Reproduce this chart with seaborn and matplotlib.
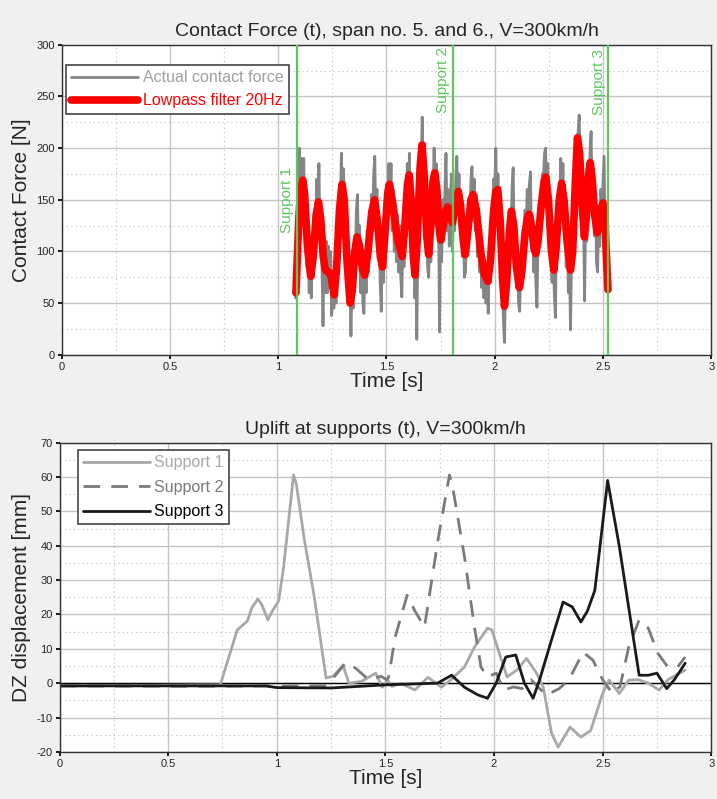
import numpy as np
import pandas as pd
import seaborn as sns
import matplotlib.pyplot as plt
from matplotlib.ticker import MultipleLocator

# contact force, span 5 and 6
force_t = [1.080, 1.086, 1.092, 1.098, 1.103, 1.108, 1.113, 1.118, 1.123, 1.128, 1.133, 1.138,
           1.143, 1.148, 1.153, 1.158, 1.163, 1.168, 1.173, 1.178, 1.183, 1.188, 1.193, 1.198,
           1.203, 1.207, 1.212, 1.217, 1.222, 1.227, 1.232, 1.237, 1.242, 1.247, 1.252, 1.257,
           1.262, 1.267, 1.272, 1.277, 1.282, 1.287, 1.292, 1.297, 1.302, 1.307, 1.312, 1.317,
           1.322, 1.327, 1.332, 1.336, 1.341, 1.346, 1.351, 1.356, 1.361, 1.366, 1.371, 1.376,
           1.381, 1.386, 1.391, 1.396, 1.401, 1.406, 1.411, 1.416, 1.421, 1.426, 1.431, 1.436,
           1.441, 1.446, 1.451, 1.456, 1.461, 1.466, 1.471, 1.476, 1.481, 1.486, 1.491, 1.496,
           1.501, 1.506, 1.511, 1.516, 1.521, 1.526, 1.531, 1.536, 1.541, 1.546, 1.551, 1.556,
           1.561, 1.566, 1.571, 1.576, 1.581, 1.586, 1.591, 1.596, 1.601, 1.606, 1.611, 1.616,
           1.621, 1.626, 1.631, 1.636, 1.640, 1.645, 1.650, 1.655, 1.660, 1.665, 1.670, 1.675,
           1.680, 1.685, 1.690, 1.695, 1.700, 1.705, 1.710, 1.715, 1.720, 1.725, 1.730, 1.735,
           1.740, 1.745, 1.750, 1.755, 1.760, 1.765, 1.770, 1.775, 1.780, 1.785, 1.790, 1.795,
           1.800, 1.805, 1.810, 1.815, 1.820, 1.825, 1.830, 1.835, 1.840, 1.845, 1.850, 1.855,
           1.860, 1.865, 1.870, 1.875, 1.880, 1.885, 1.890, 1.895, 1.900, 1.905, 1.910, 1.915,
           1.920, 1.925, 1.930, 1.935, 1.940, 1.945, 1.950, 1.955, 1.960, 1.965, 1.970, 1.975,
           1.980, 1.985, 1.990, 1.995, 2.000, 2.005, 2.010, 2.015, 2.020, 2.025, 2.030, 2.035,
           2.040, 2.045, 2.050, 2.055, 2.060, 2.065, 2.070, 2.075, 2.080, 2.085, 2.090, 2.095,
           2.100, 2.105, 2.110, 2.115, 2.120, 2.125, 2.130, 2.135, 2.140, 2.145, 2.150, 2.155,
           2.160, 2.165, 2.170, 2.175, 2.180, 2.185, 2.190, 2.195, 2.200, 2.205, 2.210, 2.215,
           2.220, 2.225, 2.230, 2.235, 2.240, 2.245, 2.250, 2.255, 2.260, 2.265, 2.270, 2.275,
           2.280, 2.285, 2.290, 2.295, 2.300, 2.305, 2.310, 2.315, 2.320, 2.325, 2.330, 2.335,
           2.340, 2.345, 2.350, 2.355, 2.360, 2.365, 2.370, 2.375, 2.380, 2.385, 2.390, 2.395,
           2.400, 2.405, 2.410, 2.415, 2.420, 2.425, 2.430, 2.435, 2.440, 2.445, 2.450, 2.455,
           2.460, 2.465, 2.470, 2.475, 2.480, 2.485, 2.490, 2.495, 2.500, 2.505, 2.510, 2.515,
           2.520, 2.523]
force_actual = [55, 130, 175, 200, 145, 190, 135, 190, 120, 150, 85, 120,
                60, 95, 55, 105, 75, 130, 100, 170, 125, 185, 115, 140,
                80, 28, 105, 60, 110, 60, 105, 65, 100, 38, 80, 45,
                80, 50, 120, 110, 160, 145, 195, 140, 180, 115, 130, 85,
                95, 55, 60, 18, 75, 45, 105, 85, 140, 155, 95, 125,
                60, 100, 50, 40, 100, 60, 120, 80, 135, 105, 155, 120,
                175, 192, 125, 160, 100, 130, 70, 42, 105, 70, 130, 100,
                165, 130, 185, 150, 185, 120, 160, 100, 140, 90, 135, 80,
                125, 75, 56, 115, 85, 140, 115, 185, 145, 195, 130, 160,
                85, 110, 55, 85, 15, 110, 135, 195, 180, 230, 170, 205,
                135, 140, 85, 75, 120, 90, 155, 150, 200, 150, 185, 125,
                150, 22, 130, 90, 150, 110, 160, 195, 120, 160, 105, 145,
                175, 100, 150, 120, 170, 192, 140, 175, 125, 140, 95, 125,
                75, 80, 115, 100, 145, 120, 170, 182, 130, 170, 120, 155,
                95, 125, 80, 110, 65, 95, 55, 90, 50, 80, 40, 95,
                70, 125, 120, 170, 160, 200, 135, 175, 110, 140, 60, 70,
                35, 12, 70, 60, 105, 95, 140, 115, 160, 181, 110, 120,
                65, 100, 50, 42, 80, 75, 115, 100, 140, 120, 160, 140,
                165, 177, 105, 135, 80, 120, 70, 46, 115, 115, 135, 150,
                175, 170, 195, 200, 150, 185, 125, 135, 90, 70, 105, 60,
                36, 110, 115, 155, 150, 190, 140, 185, 120, 150, 85, 120,
                60, 95, 24, 100, 95, 150, 150, 200, 210, 215, 232, 180,
                185, 125, 135, 52, 140, 110, 170, 165, 195, 216, 150, 180,
                115, 150, 90, 80, 135, 105, 160, 140, 165, 192, 110, 125,
                65, 65]

lowpass_t = [1.082, 1.095, 1.105, 1.114, 1.122, 1.135, 1.150, 1.162, 1.175, 1.186, 1.197, 1.208,
             1.218, 1.230, 1.241, 1.250, 1.259, 1.270, 1.283, 1.295, 1.305, 1.318, 1.332, 1.342,
             1.354, 1.364, 1.376, 1.390, 1.400, 1.415, 1.432, 1.445, 1.458, 1.472, 1.482, 1.494,
             1.506, 1.514, 1.530, 1.550, 1.573, 1.585, 1.597, 1.605, 1.614, 1.624, 1.632, 1.642,
             1.655, 1.664, 1.674, 1.686, 1.695, 1.705, 1.715, 1.723, 1.733, 1.742, 1.750, 1.762,
             1.775, 1.782, 1.792, 1.805, 1.818, 1.832, 1.842, 1.855, 1.864, 1.875, 1.890, 1.900,
             1.915, 1.935, 1.952, 1.968, 1.980, 1.995, 2.005, 2.014, 2.025, 2.036, 2.045, 2.055,
             2.068, 2.077, 2.088, 2.100, 2.114, 2.125, 2.140, 2.152, 2.159, 2.170, 2.182, 2.190,
             2.200, 2.215, 2.228, 2.236, 2.248, 2.262, 2.273, 2.284, 2.298, 2.309, 2.320, 2.335,
             2.350, 2.360, 2.372, 2.382, 2.392, 2.404, 2.414, 2.424, 2.434, 2.441, 2.450, 2.462,
             2.473, 2.482, 2.492, 2.500, 2.508, 2.515, 2.523]
lowpass_f = [60, 130, 162, 169, 155, 105, 76, 95, 135, 148, 130, 95,
             82, 80, 79, 68, 58, 85, 140, 165, 150, 90, 50, 62,
             100, 114, 105, 82, 77, 100, 138, 150, 130, 95, 85, 120,
             157, 165, 145, 112, 95, 125, 165, 174, 150, 95, 77, 110,
             180, 203, 175, 115, 97, 125, 168, 176, 160, 125, 111, 125,
             140, 143, 134, 128, 145, 158, 145, 110, 97, 118, 150, 155,
             140, 100, 78, 71, 90, 140, 158, 160, 130, 75, 47, 70,
             120, 139, 125, 85, 65, 80, 118, 134, 136, 125, 102, 98,
             110, 145, 168, 172, 150, 100, 82, 105, 150, 166, 150, 108,
             82, 100, 165, 210, 195, 145, 114, 135, 175, 186, 170, 135,
             118, 125, 142, 147, 135, 100, 63]

support_t = [1.085, 1.805, 2.525]
support_names = ["Support 1", "Support 2", "Support 3"]
support_text_y = [150, 298, 296]

# uplift at supports
s1_t = [0, 0.74, 0.818, 0.864, 0.886, 0.913, 0.932, 0.959, 0.977, 1.009, 1.032, 1.077, 1.09,
        1.127, 1.173, 1.227, 1.259, 1.305, 1.332, 1.39, 1.455, 1.486, 1.51, 1.53, 1.57, 1.636,
        1.696, 1.758, 1.80, 1.864, 1.91, 1.97, 1.99, 2.03, 2.06, 2.105, 2.15, 2.196, 2.227,
        2.265, 2.295, 2.35, 2.40, 2.445, 2.50, 2.53, 2.577, 2.62, 2.665, 2.71, 2.76, 2.80, 2.88]
s1_z = [-0.8, -0.5, 15.5, 18, 22, 24.5, 22.7, 18.4, 20.7, 24, 34, 60.6, 58,
        41.7, 25, 1.5, 2, 5.2, 0, 0.5, 2.9, -1.2, 1, -1, 0, -2,
        1.7, -1.2, 0.9, 4.7, 10.5, 16, 15.5, 7.6, 1.8, 3.8, 7.2, 2.9, -1.2,
        -14.6, -18.6, -12.8, -15.7, -13.8, -3, 0.9, -3, 0.9, 1, 0, -2, 1, 3.8]

s2_t = [0, 0.6, 1.22, 1.26, 1.318, 1.364, 1.423, 1.48, 1.505, 1.515, 1.545, 1.60, 1.636, 1.68,
        1.742, 1.795, 1.81, 1.864, 1.91, 1.94, 1.97, 2.01, 2.045, 2.09, 2.13, 2.17, 2.24, 2.30,
        2.345, 2.41, 2.455, 2.50, 2.545, 2.58, 2.62, 2.668, 2.71, 2.755, 2.80, 2.845, 2.88]
s2_z = [-0.8, -0.9, -0.8, 1.5, 6, 4.3, 1, 2, 1, 1.8, 13.4, 25.6, 21, 16.3,
        41.7, 60.6, 57, 36.8, 16.3, 4.7, 1.8, 2.9, -2, -1.1, -1.6, 1, -3.5, -1.6,
        1, 9, 6.7, 1, -3, -1, 10.5, 18.4, 16, 8.6, 4.7, 4.7, 7.6]

s3_t = [0, 0.95, 1.0, 1.25, 1.5, 1.74, 1.805, 1.864, 1.925, 1.97, 2.01, 2.054, 2.10, 2.14,
        2.18, 2.21, 2.26, 2.318, 2.36, 2.40, 2.43, 2.464, 2.486, 2.523, 2.577, 2.62, 2.668,
        2.71, 2.75, 2.795, 2.83, 2.88]
s3_z = [-0.8, -0.8, -1.3, -1.4, -0.5, 0, 2.3, -1.2, -3.4, -4.4, 0, 7.6, 8.2, 0,
        -4.4, 1, 11.6, 23.6, 22.2, 17.8, 21, 27, 38.8, 59, 39.7, 22, 2.3,
        2.3, 2.9, -1.6, 1, 5.8]

force_df = pd.DataFrame({"t": force_t, "F": force_actual})
lowpass_df = pd.DataFrame({"t": lowpass_t, "F": lowpass_f})
uplift = pd.concat([
    pd.DataFrame({"t": s1_t, "dz": s1_z, "support": "Support 1"}),
    pd.DataFrame({"t": s2_t, "dz": s2_z, "support": "Support 2"}),
    pd.DataFrame({"t": s3_t, "dz": s3_z, "support": "Support 3"}),
])

sns.set_theme(style="whitegrid")
plt.rcParams['font.family'] = ['Liberation Sans', 'DejaVu Sans']
plt.rcParams['axes.unicode_minus'] = False

fig = plt.figure(figsize=(7.17, 7.99), dpi=100, facecolor="#f0f0f0")
ax1 = fig.add_axes([0.086, 0.556, 0.906, 0.388])
ax2 = fig.add_axes([0.083, 0.059, 0.909, 0.387])

green = "#5cc85c"


def style_axes(ax, ymajor, yminor):
    ax.set_facecolor("white")
    ax.xaxis.set_major_locator(MultipleLocator(0.5))
    ax.xaxis.set_minor_locator(MultipleLocator(0.25))
    ax.yaxis.set_major_locator(MultipleLocator(ymajor))
    ax.yaxis.set_minor_locator(MultipleLocator(yminor))
    ax.grid(which="major", color="#c4c4c4", lw=1, ls="-")
    ax.grid(which="minor", color="#bdbdbd", lw=0.8, ls=(0, (1, 3)))
    ax.tick_params(which="major", labelsize=8, length=3, color="black", direction="out",
                   bottom=True, left=True, pad=2)
    ax.tick_params(which="minor", length=0)
    for sp in ax.spines.values():
        sp.set_color("#333333")
        sp.set_linewidth(1)
    ax.xaxis.set_major_formatter(plt.FuncFormatter(lambda v, p: f"{v:g}"))


# top panel
sns.lineplot(data=force_df, x="t", y="F", ax=ax1, color="#858585", lw=2,
             estimator=None, sort=False, label="Actual contact force")
sns.lineplot(data=lowpass_df, x="t", y="F", ax=ax1, color="#ff0000", lw=5.5,
             estimator=None, sort=False, label="Lowpass filter 20Hz",
             solid_joinstyle="round", solid_capstyle="round")
for st, name, ty in zip(support_t, support_names, support_text_y):
    ax1.axvline(st, color=green, lw=1.6, zorder=3)
    ax1.text(st - 0.012, ty, name, rotation=90, color=green, fontsize=11,
             ha="right", va="top" if ty > 200 else "center")
ax1.set_xlim(0, 3)
ax1.set_ylim(0, 300)
style_axes(ax1, 50, 25)
ax1.set_title("Contact Force (t), span no. 5. and 6., V=300km/h", fontsize=14, pad=6)
ax1.set_xlabel("Time [s]", fontsize=15, labelpad=0)
ax1.set_ylabel("Contact Force [N]", fontsize=15, labelpad=4)
leg1 = ax1.legend(loc="upper left", bbox_to_anchor=(0.006, 0.935), fontsize=11.5,
                  frameon=True, fancybox=False, edgecolor="#444444", framealpha=1,
                  handlelength=4.2, handletextpad=0.3, borderpad=0.35, labelspacing=0.5,
                  borderaxespad=0)
for txt, c in zip(leg1.get_texts(), ["#a0a0a0", "#ff0000"]):
    txt.set_color(c)
leg1.get_frame().set_linewidth(1.2)

# bottom panel
ax2.axhline(0, color="black", lw=1, zorder=1)
sns.lineplot(data=uplift, x="t", y="dz", hue="support", style="support", ax=ax2,
             palette={"Support 1": "#a8a8a8", "Support 2": "#7a7a7a", "Support 3": "#1a1a1a"},
             dashes={"Support 1": "", "Support 2": (6, 4), "Support 3": ""},
             lw=2, estimator=None, sort=False)
ax2.set_xlim(0, 3)
ax2.set_ylim(-20, 70)
style_axes(ax2, 10, 5)
ax2.set_title("Uplift at supports (t), V=300km/h", fontsize=14, pad=6)
ax2.set_xlabel("Time [s]", fontsize=15, labelpad=0)
ax2.set_ylabel("DZ displacement [mm]", fontsize=15, labelpad=4)
leg2 = ax2.legend(loc="upper left", bbox_to_anchor=(0.028, 0.975), fontsize=11.5, title=None,
                  frameon=True, fancybox=False, edgecolor="#444444", framealpha=1,
                  handlelength=4.2, handletextpad=0.3, borderpad=0.3, labelspacing=0.6,
                  borderaxespad=0)
for txt, c in zip(leg2.get_texts(), ["#a8a8a8", "#7a7a7a", "#000000"]):
    txt.set_color(c)
leg2.get_frame().set_linewidth(1.2)

fig.savefig("out.png", dpi=100, facecolor=fig.get_facecolor())
